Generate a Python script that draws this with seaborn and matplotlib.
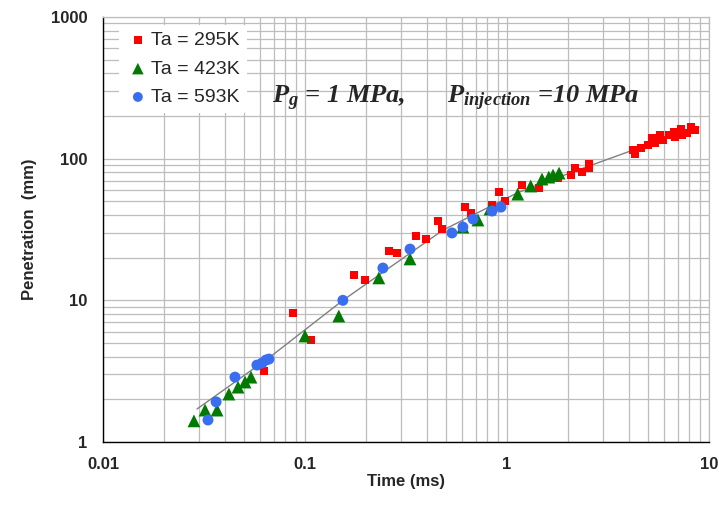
import matplotlib
matplotlib.use("Agg")
import matplotlib.pyplot as plt
import matplotlib.ticker as mticker
import seaborn as sns
import pandas as pd

# ---------------- data ----------------
t_295 = [0.0627, 0.0873, 0.107, 0.175, 0.198, 0.261, 0.285, 0.355, 0.397, 0.455,
         0.476, 0.619, 0.663, 0.843, 0.913, 0.977, 1.186, 1.44, 1.79, 2.07,
         2.17, 2.35, 2.55, 2.55, 4.21, 4.30, 4.61, 4.99, 5.22, 5.41,
         5.72, 5.92, 6.34, 6.71, 6.79, 7.27, 7.35, 7.78, 8.15, 8.53]
p_295 = [3.17, 8.13, 5.25, 15.1, 13.9, 22.3, 21.6, 28.4, 27.1, 36.3,
         31.9, 45.5, 41.3, 47.1, 58.1, 50.2, 65.1, 62.0, 73.0, 76.6,
         85.9, 80.4, 91.6, 85.9, 115, 108, 119, 125, 140, 129,
         147, 135, 147, 154, 142, 162, 147, 152, 167, 159]

t_423 = [0.0282, 0.0320, 0.0367, 0.0420, 0.0466, 0.0505, 0.0540, 0.100, 0.147, 0.232,
         0.331, 0.605, 0.718, 0.824, 1.13, 1.31, 1.49, 1.61, 1.69, 1.81]
p_423 = [1.41, 1.68, 1.68, 2.18, 2.44, 2.65, 2.87, 5.60, 7.75, 14.4,
         19.6, 32.9, 36.9, 44.1, 56.2, 64.1, 71.8, 74.1, 76.6, 79.1]

t_593 = [0.0331, 0.0363, 0.0450, 0.0578, 0.0613, 0.0641, 0.0663, 0.154, 0.243, 0.331,
         0.534, 0.605, 0.679, 0.843, 0.933]
p_593 = [1.43, 1.92, 2.87, 3.49, 3.61, 3.79, 3.85, 10.0, 16.9, 23.0,
         29.9, 32.9, 37.5, 42.7, 45.5]

fit_t = [0.0292, 0.0671, 0.154, 0.482, 0.710, 1.12, 2.17, 4.21, 8.92]
fit_p = [1.71, 3.98, 10.0, 31.3, 41.3, 57.2, 81.7, 115, 167]

labels = ["Ta = 295K", "Ta = 423K", "Ta = 593K"]
x_ticks = [0.01, 0.1, 1, 10]
x_tick_labels = ["0.01", "0.1", "1", "10"]
y_ticks = [1, 10, 100, 1000]
y_tick_labels = ["1", "10", "100", "1000"]

# ---------------- style ----------------
sns.set_style("white")
plt.rcParams["font.family"] = ["Liberation Sans", "DejaVu Sans"]
plt.rcParams["mathtext.fontset"] = "custom"
plt.rcParams["mathtext.rm"] = "Liberation Serif"
plt.rcParams["mathtext.it"] = "Liberation Serif:italic"
plt.rcParams["mathtext.bf"] = "Liberation Serif:bold"
try:
    plt.rcParams["mathtext.bfit"] = "Liberation Serif:bold:italic"
    BFIT = True
except KeyError:
    BFIT = False

fig = plt.figure(figsize=(7.19, 5.17), dpi=100)
ax = fig.add_axes([103 / 719, 1 - 442 / 517, 606 / 719, 425 / 517])

df_fit = pd.DataFrame({"t": fit_t, "p": fit_p})
sns.lineplot(data=df_fit, x="t", y="p", ax=ax, color="#808080", lw=1.0,
             sort=False, estimator=None, zorder=2)

d1 = pd.DataFrame({"t": t_295, "p": p_295})
d2 = pd.DataFrame({"t": t_423, "p": p_423})
d3 = pd.DataFrame({"t": t_593, "p": p_593})
sns.scatterplot(data=d1, x="t", y="p", ax=ax, marker="s", s=38, color="#ff0000",
                edgecolor="none", linewidth=0, label=labels[0], zorder=3)
sns.scatterplot(data=d2, x="t", y="p", ax=ax, marker="^", s=85, color="#007a00",
                edgecolor="none", linewidth=0, label=labels[1], zorder=3)
sns.scatterplot(data=d3, x="t", y="p", ax=ax, marker="o", s=62, color="#3a6ef0",
                edgecolor="none", linewidth=0, label=labels[2], zorder=4)

ax.set_xscale("log")
ax.set_yscale("log")
ax.set_xlim(0.01, 10)
ax.set_ylim(1, 1000)

ax.xaxis.set_major_locator(mticker.FixedLocator(x_ticks))
ax.xaxis.set_major_formatter(mticker.FixedFormatter(x_tick_labels))
ax.yaxis.set_major_locator(mticker.FixedLocator(y_ticks))
ax.yaxis.set_major_formatter(mticker.FixedFormatter(y_tick_labels))
ax.xaxis.set_minor_locator(mticker.LogLocator(base=10, subs=range(2, 10)))
ax.yaxis.set_minor_locator(mticker.LogLocator(base=10, subs=range(2, 10)))
ax.xaxis.set_minor_formatter(mticker.NullFormatter())
ax.yaxis.set_minor_formatter(mticker.NullFormatter())

ax.grid(True, which="both", color="#bdbdbd", lw=0.9, zorder=0)
ax.set_axisbelow(True)

ax.tick_params(axis="both", which="major", direction="out", length=5, width=1,
               color="black", labelsize=12, pad=6)
ax.tick_params(axis="both", which="minor", direction="out", length=4, width=1,
               color="black")
for lab in ax.get_xticklabels() + ax.get_yticklabels():
    lab.set_fontweight("bold")

for side in ["left", "bottom"]:
    ax.spines[side].set_color("black")
    ax.spines[side].set_linewidth(1.0)
for side in ["top", "right"]:
    ax.spines[side].set_color("#bdbdbd")
    ax.spines[side].set_linewidth(0.9)

ax.set_xlabel("Time (ms)", fontsize=12, fontweight="bold", labelpad=1)
ax.set_ylabel("Penetration  (mm)", fontsize=12, fontweight="bold", labelpad=10)

leg = ax.legend(loc="upper left", bbox_to_anchor=(0.011, 1.004), fontsize=14,
                frameon=True, facecolor="white", edgecolor="none", framealpha=1,
                handletextpad=0.1, labelspacing=0.55, borderpad=0.35,
                handlelength=1.2, markerscale=0.9)
leg.get_frame().set_linewidth(0)

if BFIT:
    s1 = r"$\mathbfit{P}_{\mathbfit{g}}$ = 1 MPa,"
    s2 = r"$\mathbfit{P}_{\mathbfit{injection}}$ =10 MPa"
else:
    s1 = r"$\mathbf{P}_{\mathbf{g}}$ = 1 MPa,"
    s2 = r"$\mathbf{P}_{\mathbf{injection}}$ =10 MPa"
common = dict(transform=ax.transAxes, fontsize=19, fontweight="bold", fontstyle="italic",
              family="Liberation Serif", ha="left", va="baseline", zorder=5)
ax.text((272 - 103) / 606, (442 - 103) / 425, s1, **common)
ax.text((447 - 103) / 606, (442 - 103) / 425, s2, **common)

fig.savefig("out.png", dpi=100)
